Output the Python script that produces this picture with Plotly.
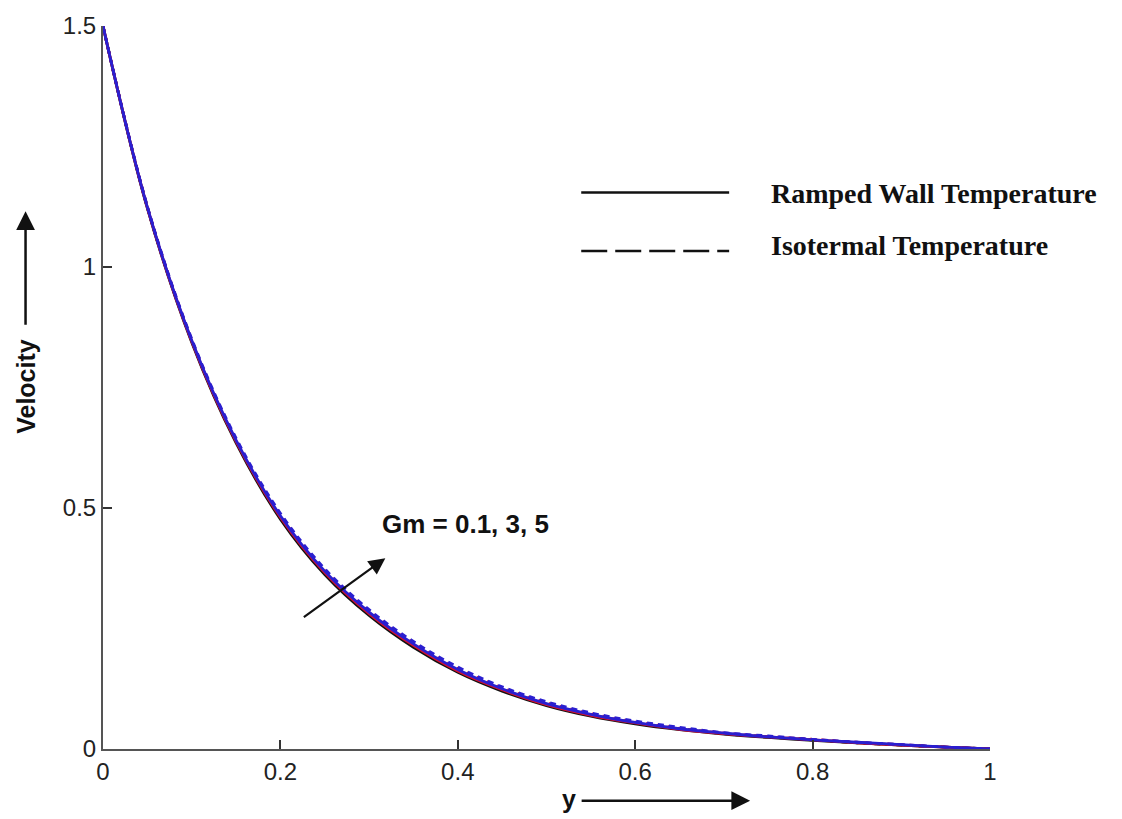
import plotly.graph_objects as go

# Distance from the plate
y_pos = [0.00, 0.05, 0.10, 0.15, 0.20, 0.25, 0.30, 0.35, 0.40, 0.45, 0.50,
         0.55, 0.60, 0.65, 0.70, 0.75, 0.80, 0.85, 0.90, 0.95, 1.00]

# Velocity profiles, ramped wall temperature
ramped_gm01 = [1.500, 1.122, 0.844, 0.635, 0.477, 0.362, 0.277, 0.211, 0.159, 0.120, 0.090,
               0.068, 0.052, 0.040, 0.031, 0.024, 0.018, 0.013, 0.008, 0.004, 0.000]
ramped_gm3 = [1.500, 1.123, 0.846, 0.638, 0.481, 0.366, 0.281, 0.215, 0.162, 0.123, 0.092,
              0.070, 0.054, 0.041, 0.032, 0.025, 0.019, 0.013, 0.008, 0.004, 0.000]
ramped_gm5 = [1.500, 1.124, 0.848, 0.641, 0.484, 0.369, 0.284, 0.218, 0.165, 0.125, 0.094,
              0.072, 0.055, 0.042, 0.033, 0.025, 0.019, 0.014, 0.009, 0.004, 0.000]

# Velocity profiles, isothermal temperature
iso_gm01 = [1.500, 1.124, 0.847, 0.639, 0.482, 0.367, 0.282, 0.216, 0.163, 0.124, 0.093,
            0.071, 0.054, 0.042, 0.032, 0.025, 0.019, 0.013, 0.008, 0.004, 0.000]
iso_gm3 = [1.500, 1.125, 0.849, 0.642, 0.486, 0.371, 0.286, 0.220, 0.167, 0.127, 0.096,
           0.073, 0.056, 0.043, 0.033, 0.026, 0.020, 0.014, 0.009, 0.004, 0.000]
iso_gm5 = [1.500, 1.126, 0.851, 0.645, 0.489, 0.374, 0.289, 0.223, 0.170, 0.129, 0.098,
           0.075, 0.058, 0.045, 0.034, 0.027, 0.020, 0.014, 0.009, 0.004, 0.000]

x_ticks = [0, 0.2, 0.4, 0.6, 0.8, 1]
x_tick_text = ["0", "0.2", "0.4", "0.6", "0.8", "1"]
y_ticks = [0, 0.5, 1, 1.5]
y_tick_text = ["0", "0.5", "1", "1.5"]

series = [
    ("Gm = 0.1 (ramped)", ramped_gm01, "#111111", "solid"),
    ("Gm = 0.1 (isothermal)", iso_gm01, "#111111", "6px,5px"),
    ("Gm = 3 (ramped)", ramped_gm3, "#d8102e", "solid"),
    ("Gm = 3 (isothermal)", iso_gm3, "#d8102e", "6px,5px"),
    ("Gm = 5 (ramped)", ramped_gm5, "#2a1fd0", "solid"),
    ("Gm = 5 (isothermal)", iso_gm5, "#2a1fd0", "6px,5px"),
]

fig = go.Figure()
for name, vals, color, dash in series:
    fig.add_trace(go.Scatter(
        x=y_pos, y=vals, mode="lines", name=name,
        line=dict(color=color, width=2.8, dash=dash, shape="spline", smoothing=1.0),
        showlegend=False,
    ))

W, H = 1122, 819
L, R, T, B = 102.5, 132, 21.5, 70
pw, ph = W - L - R, H - T - B


def px(xp):
    return (xp - L) / pw


def py(yp):
    return (H - B - yp) / ph


tick_font = dict(family="Liberation Sans, Arial, sans-serif", size=24, color="#222222")
bold_sans = dict(family="Liberation Sans, Arial, sans-serif", size=25, color="#111111")
legend_font = dict(family="Liberation Serif, Times New Roman, serif", size=28, color="#111111")

fig.update_layout(
    width=W, height=H,
    margin=dict(l=L, r=R, t=T, b=B, pad=0),
    paper_bgcolor="white", plot_bgcolor="white",
    xaxis=dict(
        range=[0, 1], tickvals=x_ticks, ticktext=x_tick_text,
        showgrid=False, zeroline=False, showline=True, linecolor="#555555", linewidth=2,
        ticks="inside", ticklen=9, tickwidth=2, tickcolor="#333333",
        tickfont=tick_font, mirror=False,
    ),
    yaxis=dict(
        range=[0, 1.5], tickvals=y_ticks, ticktext=y_tick_text,
        showgrid=False, zeroline=False, showline=True, linecolor="#555555", linewidth=2,
        ticks="inside", ticklen=9, tickwidth=2, tickcolor="#333333",
        tickfont=tick_font, mirror=False,
    ),
)

# Legend drawn as line samples with serif labels
fig.add_shape(type="line", xref="paper", yref="paper",
              x0=px(581), x1=px(729), y0=py(189), y1=py(189),
              line=dict(color="#111111", width=2.5))
fig.add_shape(type="line", xref="paper", yref="paper",
              x0=px(581), x1=px(729), y0=py(248), y1=py(248),
              line=dict(color="#111111", width=2.5, dash="26px,8px"))

annotations = [
    dict(text="<b>Ramped Wall Temperature</b>", x=px(769), y=py(190),
         xanchor="left", yanchor="middle", font=legend_font, showarrow=False),
    dict(text="<b>Isotermal Temperature</b>", x=px(769), y=py(242),
         xanchor="left", yanchor="middle", font=legend_font, showarrow=False),
    dict(text="<b>Gm = 0.1, 3, 5</b>", x=px(465), y=py(523),
         xanchor="center", yanchor="middle", font=dict(bold_sans, size=26), showarrow=False),
    dict(text="<b>y</b>", x=px(569), y=py(799),
         xanchor="center", yanchor="middle", font=bold_sans, showarrow=False),
    dict(text="<b>Velocity</b>", x=px(26), y=py(384), textangle=-90,
         xanchor="center", yanchor="middle", font=bold_sans, showarrow=False),
    # arrows
    dict(text="", x=px(385), y=py(557), ax=-83, ay=60, showarrow=True,
         arrowhead=2, arrowsize=1.5, arrowwidth=2.2, arrowcolor="#111111"),
    dict(text="", x=px(750), y=py(801), ax=-170, ay=0, showarrow=True,
         arrowhead=2, arrowsize=1.5, arrowwidth=2.5, arrowcolor="#111111"),
    dict(text="", x=px(25), y=py(208), ax=0, ay=115, showarrow=True,
         arrowhead=2, arrowsize=1.5, arrowwidth=2.5, arrowcolor="#111111"),
]
for a in annotations:
    a.setdefault("xref", "paper")
    a.setdefault("yref", "paper")
    fig.add_annotation(**a)

fig.write_html("out.html")
